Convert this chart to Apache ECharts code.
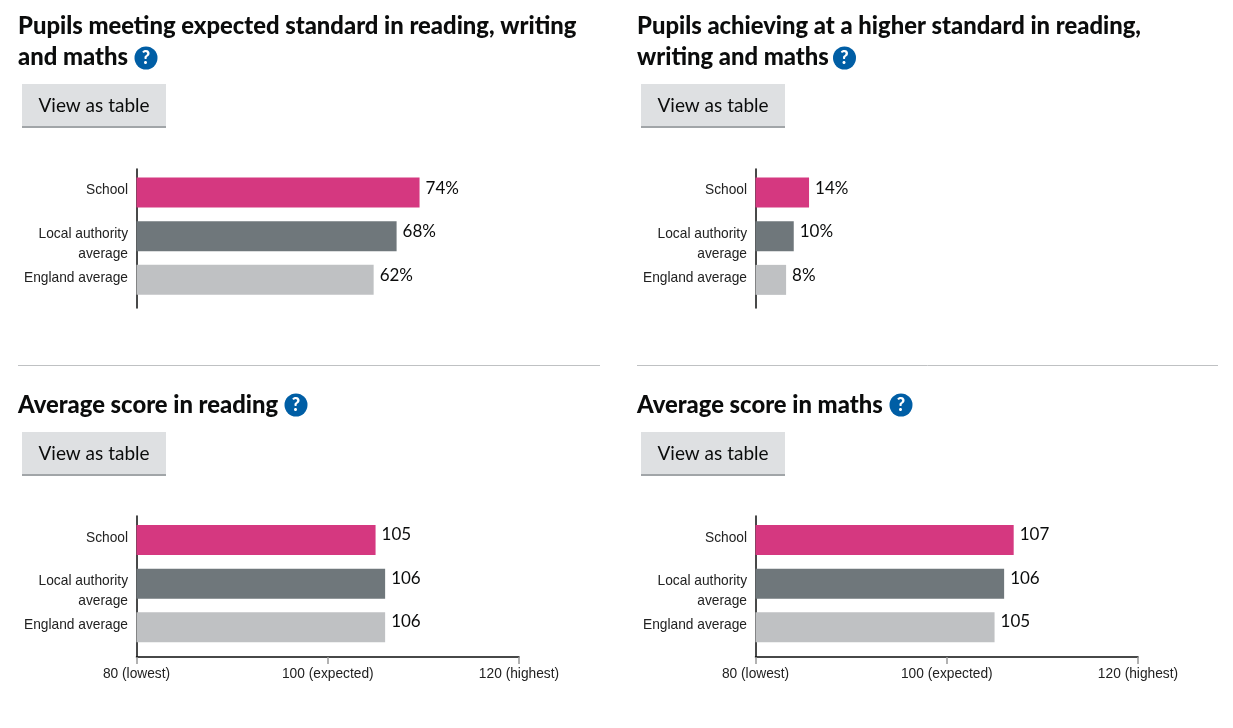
<!DOCTYPE html>
<html><head><meta charset="utf-8">
<script src="https://cdn.jsdelivr.net/npm/echarts@6/dist/echarts.min.js"></script>
<style>html,body{margin:0;padding:0;background:#fff}#c{width:1233px;height:728px}</style></head>
<body><div id="c"></div>
<script>
const categories = ['School', 'Local authority\naverage', 'England average'];
const barColors = ['#d53880', '#6f777b', '#bfc1c3'];
const expectedValues = [74, 68, 62];
const higherValues = [14, 10, 8];
const readingValues = [105, 106, 106];
const mathsValues = [107, 106, 105];
const scoreTicks = [80, 100, 120];
const scoreTickLabels = {80: '80 (lowest)', 100: '100 (expected)', 120: '120 (highest)'};
const titleFont = 'Lato';
const panels = [
  {title: 'Pupils meeting expected standard in reading, writing\nand maths', values: expectedValues, suffix: '%', min: 0, max: 100, x: 136.5, top: 169, h: 139, bandTop: 170.7, icon: [146, 58], tx: 18, ty: 11, bx: 22, by: 84, score: false},
  {title: 'Pupils achieving at a higher standard in reading,\nwriting and maths', values: higherValues, suffix: '%', min: 0, max: 100, x: 755.5, top: 169, h: 139, bandTop: 170.7, icon: [844.5, 58], tx: 637, ty: 11, bx: 641, by: 84, score: false},
  {title: 'Average score in reading', values: readingValues, suffix: '', min: 80, max: 120, x: 136.5, top: 516, h: 141, bandTop: 518.2, icon: [296, 405], tx: 18, ty: 390, bx: 22, by: 432, score: true},
  {title: 'Average score in maths', values: mathsValues, suffix: '', min: 80, max: 120, x: 755.5, top: 516, h: 141, bandTop: 518.2, icon: [901, 405], tx: 637, ty: 390, bx: 641, by: 432, score: true}
];
const dividers = [[18, 600], [637, 1218]];
const W = 382.5, BAND = 131;
const grid = [], xAxis = [], yAxis = [], series = [], graphic = [];
panels.forEach((p, i) => {
  // outer grid: the axis lines only
  grid.push({left: p.x, top: p.top, width: W, height: p.h});
  xAxis.push({gridIndex: 2*i, type: 'value', min: p.min, max: p.max, interval: 20, show: p.score,
    splitLine: {show: false},
    axisLine: {show: true, onZero: false, lineStyle: {color: '#0b0c0c', width: 1.5}},
    axisTick: {show: true, length: 7, lineStyle: {color: '#999', width: 1.5}},
    axisLabel: {show: true, color: '#222', fontFamily: 'Liberation Sans', fontSize: 13.75, margin: 10,
      customValues: scoreTicks, formatter: v => scoreTickLabels[v] || ''}});
  yAxis.push({gridIndex: 2*i, type: 'value', min: 0, max: 1, splitLine: {show: false}, axisTick: {show: false}, axisLabel: {show: false},
    axisLine: {show: true, onZero: false, lineStyle: {color: '#0b0c0c', width: 1.5}}});
  // inner grid: the bars
  grid.push({left: p.x, top: p.bandTop, width: W, height: BAND});
  xAxis.push({gridIndex: 2*i+1, type: 'value', min: p.min, max: p.max, show: false});
  yAxis.push({gridIndex: 2*i+1, type: 'category', inverse: true, data: categories,
    axisLine: {show: false}, axisTick: {show: false},
    axisLabel: {color: '#222', fontFamily: 'Liberation Sans', fontSize: 13.75, margin: 8.5, lineHeight: 20, align: 'right', verticalAlign: 'top', padding: [-12, 0, 0, 0], interval: 0}});
  series.push({type: 'bar', xAxisIndex: 2*i+1, yAxisIndex: 2*i+1, barWidth: 30, silent: true,
    data: p.values.map((v, k) => ({value: v, itemStyle: {color: barColors[k]}})),
    label: {show: true, position: 'right', distance: 6, offset: [0, p.score ? -5.5 : -4.5], color: '#0b0c0c', fontFamily: 'Lato', fontSize: 17, formatter: o => o.value + p.suffix}});
  // heading
  graphic.push({type: 'text', silent: true, x: p.tx, y: p.ty, style: {text: p.title, fill: '#0b0c0c', font: '900 23.8px ' + titleFont, lineHeight: 31}});
  // help icon
  graphic.push({type: 'circle', silent: true, shape: {cx: p.icon[0], cy: p.icon[1], r: 11.5}, style: {fill: '#005ea5'}});
  graphic.push({type: 'text', silent: true, x: p.icon[0], y: p.icon[1], style: {text: '?', fill: '#fff', font: '900 18px Lato', align: 'center', verticalAlign: 'middle'}});
  // button
  graphic.push({type: 'rect', silent: true, shape: {x: p.bx, y: p.by, width: 144, height: 44}, style: {fill: '#a1a5a8'}});
  graphic.push({type: 'rect', silent: true, shape: {x: p.bx, y: p.by, width: 144, height: 42}, style: {fill: '#dee0e2'}});
  graphic.push({type: 'text', silent: true, x: p.bx + 72, y: p.by + 21.5, style: {text: 'View as table', fill: '#0b0c0c', font: '19px Lato', align: 'center', verticalAlign: 'middle'}});
});
dividers.forEach(d => graphic.push({type: 'line', silent: true, shape: {x1: d[0], y1: 365.5, x2: d[1], y2: 365.5}, style: {stroke: '#bfc1c3', lineWidth: 1}}));
const chart = echarts.init(document.getElementById('c'), null, {renderer: 'canvas'});
chart.setOption({animation: false, backgroundColor: '#fff', grid, xAxis, yAxis, series, graphic});
</script></body></html>
